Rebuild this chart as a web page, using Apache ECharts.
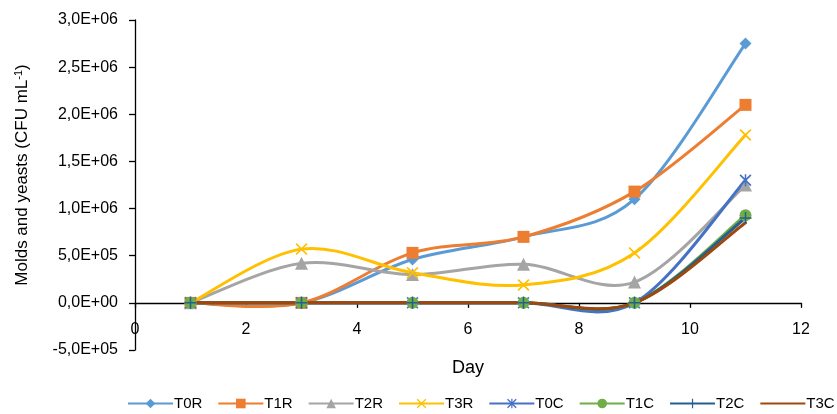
<!DOCTYPE html>
<html>
<head>
<meta charset="utf-8">
<script src="https://cdn.jsdelivr.net/npm/echarts@6/dist/echarts.min.js"></script>
<style>
  html, body { margin: 0; padding: 0; background: #fff; }
  #chart { width: 837px; height: 414px; }
</style>
</head>
<body>
<div id="chart"></div>
<script>
// Sampling days
const days = [1, 3, 5, 7, 9, 11];

// Molds and yeasts counts (CFU mL-1) per treatment
const T0R = [0, 0, 460000, 700000, 1100000, 2750000];
const T1R = [0, 0, 530000, 700000, 1180000, 2100000];
const T2R = [0, 420000, 300000, 410000, 220000, 1250000];
const T3R = [0, 570000, 320000, 190000, 530000, 1780000];
const T0C = [0, 0, 0, 0, 0, 1300000];
const T1C = [0, 0, 0, 0, 0, 930000];
const T2C = [0, 0, 0, 0, 0, 900000];
const T3C = [0, 0, 0, 0, 0, 850000];

const seriesNames = ['T0R', 'T1R', 'T2R', 'T3R', 'T0C', 'T1C', 'T2C', 'T3C'];
const seriesValues = [T0R, T1R, T2R, T3R, T0C, T1C, T2C, T3C];

// Axis ranges
const xMin = 0, xMax = 12, xStep = 2;
const yMin = -500000, yMax = 3000000, yStep = 500000;

const FONT = 'Liberation Sans, Arial, sans-serif';

// Marker shapes
const xMark = 'path://M0,1.2L1.2,0L6,4.8L10.8,0L12,1.2L7.2,6L12,10.8L10.8,12L6,7.2L1.2,12L0,10.8L4.8,6Z';
const starMark = 'path://M0,1.2L1.2,0L6,4.8L10.8,0L12,1.2L7.2,6L12,10.8L10.8,12L6,7.2L1.2,12L0,10.8L4.8,6Z M5.25,0H6.75V12H5.25Z';
const plusMark = 'path://M5.25,0H6.75V5.25H12V6.75H6.75V12H5.25V6.75H0V5.25H5.25Z';

const styles = [
  { color: '#5B9BD5', symbol: 'diamond', size: 12 },
  { color: '#ED7D31', symbol: 'rect', size: 12 },
  { color: '#A5A5A5', symbol: 'triangle', size: 13 },
  { color: '#FFC000', symbol: xMark, size: 12 },
  { color: '#4472C4', symbol: starMark, size: 12 },
  { color: '#70AD47', symbol: 'circle', size: 12 },
  { color: '#255E91', symbol: plusMark, size: 12 },
  { color: '#9E480E', symbol: 'none', size: 0 }
];

// Scientific notation with a decimal comma, e.g. 2,5E+06
function sci(v) {
  if (v === 0) return '0,0E+00';
  const exp = Math.floor(Math.log10(Math.abs(v)) + 1e-9);
  const mant = v / Math.pow(10, exp);
  const e = (exp < 0 ? '-' : '+') + String(Math.abs(exp)).padStart(2, '0');
  return mant.toFixed(1).replace('.', ',') + 'E' + e;
}

// Smoothed curve: cubic Bezier pieces with Catmull-Rom style tangents
// (control points at 1/6 of the neighbour span), computed in pixel space.
function curveSeries(name, values, color) {
  const n = days.length;
  return {
    type: 'custom',
    name: name + ' curve',
    coordinateSystem: 'cartesian2d',
    silent: true,
    animation: false,
    data: days.map((d, j) => [d, values[j]]),
    encode: { x: 0, y: 1 },
    renderItem: function (params, api) {
      const i = params.dataIndex;
      if (i >= n - 1) return null;
      const P = function (k) {
        k = Math.max(0, Math.min(n - 1, k));
        return api.coord([days[k], values[k]]);
      };
      const p0 = P(i - 1), p1 = P(i), p2 = P(i + 1), p3 = P(i + 2);
      return {
        type: 'bezierCurve',
        shape: {
          x1: p1[0], y1: p1[1],
          x2: p2[0], y2: p2[1],
          cpx1: p1[0] + (p2[0] - p0[0]) / 6,
          cpy1: p1[1] + (p2[1] - p0[1]) / 6,
          cpx2: p2[0] - (p3[0] - p1[0]) / 6,
          cpy2: p2[1] - (p3[1] - p1[1]) / 6
        },
        style: { stroke: color, lineWidth: 3, fill: 'none', lineCap: 'round' }
      };
    }
  };
}

// Markers (and legend entries) for each treatment
function markerSeries(name, values, st) {
  return {
    name: name,
    type: 'line',
    data: days.map((d, j) => [d, values[j]]),
    symbol: st.symbol,
    symbolSize: st.size,
    showSymbol: st.symbol !== 'none',
    lineStyle: { color: st.color, width: 3, opacity: 0 },
    itemStyle: { color: st.color, borderWidth: 0 },
    emphasis: { disabled: true },
    silent: true,
    animation: false
  };
}

const series = [];
seriesNames.forEach((name, i) => {
  series.push(curveSeries(name, seriesValues[i], styles[i].color));
  series.push(markerSeries(name, seriesValues[i], styles[i]));
});

// Legend entries: solid line plus the treatment's marker (none for T3C)
const legendItems = seriesNames.map((n, i) => {
  const item = { name: n, lineStyle: { opacity: 1 } };
  if (styles[i].symbol === 'none') item.itemStyle = { opacity: 0 };
  return item;
});

const chart = echarts.init(document.getElementById('chart'), null, { renderer: 'canvas' });

chart.setOption({
  backgroundColor: '#ffffff',
  animation: false,
  grid: { left: 135, right: 36, top: 20, bottom: 64, containLabel: false },
  xAxis: {
    type: 'value',
    min: xMin, max: xMax, interval: xStep,
    axisLine: { show: true, onZero: true, lineStyle: { color: '#000', width: 1.3 } },
    axisTick: { show: true, length: 5, lineStyle: { color: '#000', width: 1.3 } },
    axisLabel: { color: '#000', fontSize: 16, fontFamily: FONT, margin: -28 },
    splitLine: { show: false }
  },
  yAxis: {
    type: 'value',
    min: yMin, max: yMax, interval: yStep,
    axisLine: { show: true, onZero: false, lineStyle: { color: '#000', width: 1.3 } },
    axisTick: { show: true, length: 6, lineStyle: { color: '#000', width: 1.3 } },
    axisLabel: { color: '#000', fontSize: 16, fontFamily: FONT, margin: 17, formatter: sci },
    splitLine: { show: false }
  },
  legend: {
    data: legendItems,
    left: 127,
    top: 396,
    width: 760,
    padding: 0,
    itemWidth: 45,
    itemHeight: 12,
    itemGap: 15,
    textStyle: { color: '#000', fontSize: 15, fontFamily: FONT, padding: [0, 0, 0, -4] },
    selectedMode: false
  },
  graphic: [
    {
      type: 'text',
      x: 22, y: 175,
      rotation: Math.PI / 2,
      style: {
        text: '{a|Molds and yeasts (CFU mL}{s|-1}{a|)}',
        align: 'center',
        verticalAlign: 'middle',
        rich: {
          a: { fontSize: 17, fontFamily: FONT, fill: '#000', color: '#000' },
          s: { fontSize: 11, fontFamily: FONT, fill: '#000', color: '#000', verticalAlign: 'top', padding: [0, 0, 6, 0] }
        }
      }
    },
    {
      type: 'text',
      x: 468, y: 368,
      style: {
        text: 'Day',
        fontSize: 18,
        fontFamily: FONT,
        fill: '#000',
        align: 'center',
        verticalAlign: 'middle'
      }
    }
  ],
  series: series
});
</script>
</body>
</html>
